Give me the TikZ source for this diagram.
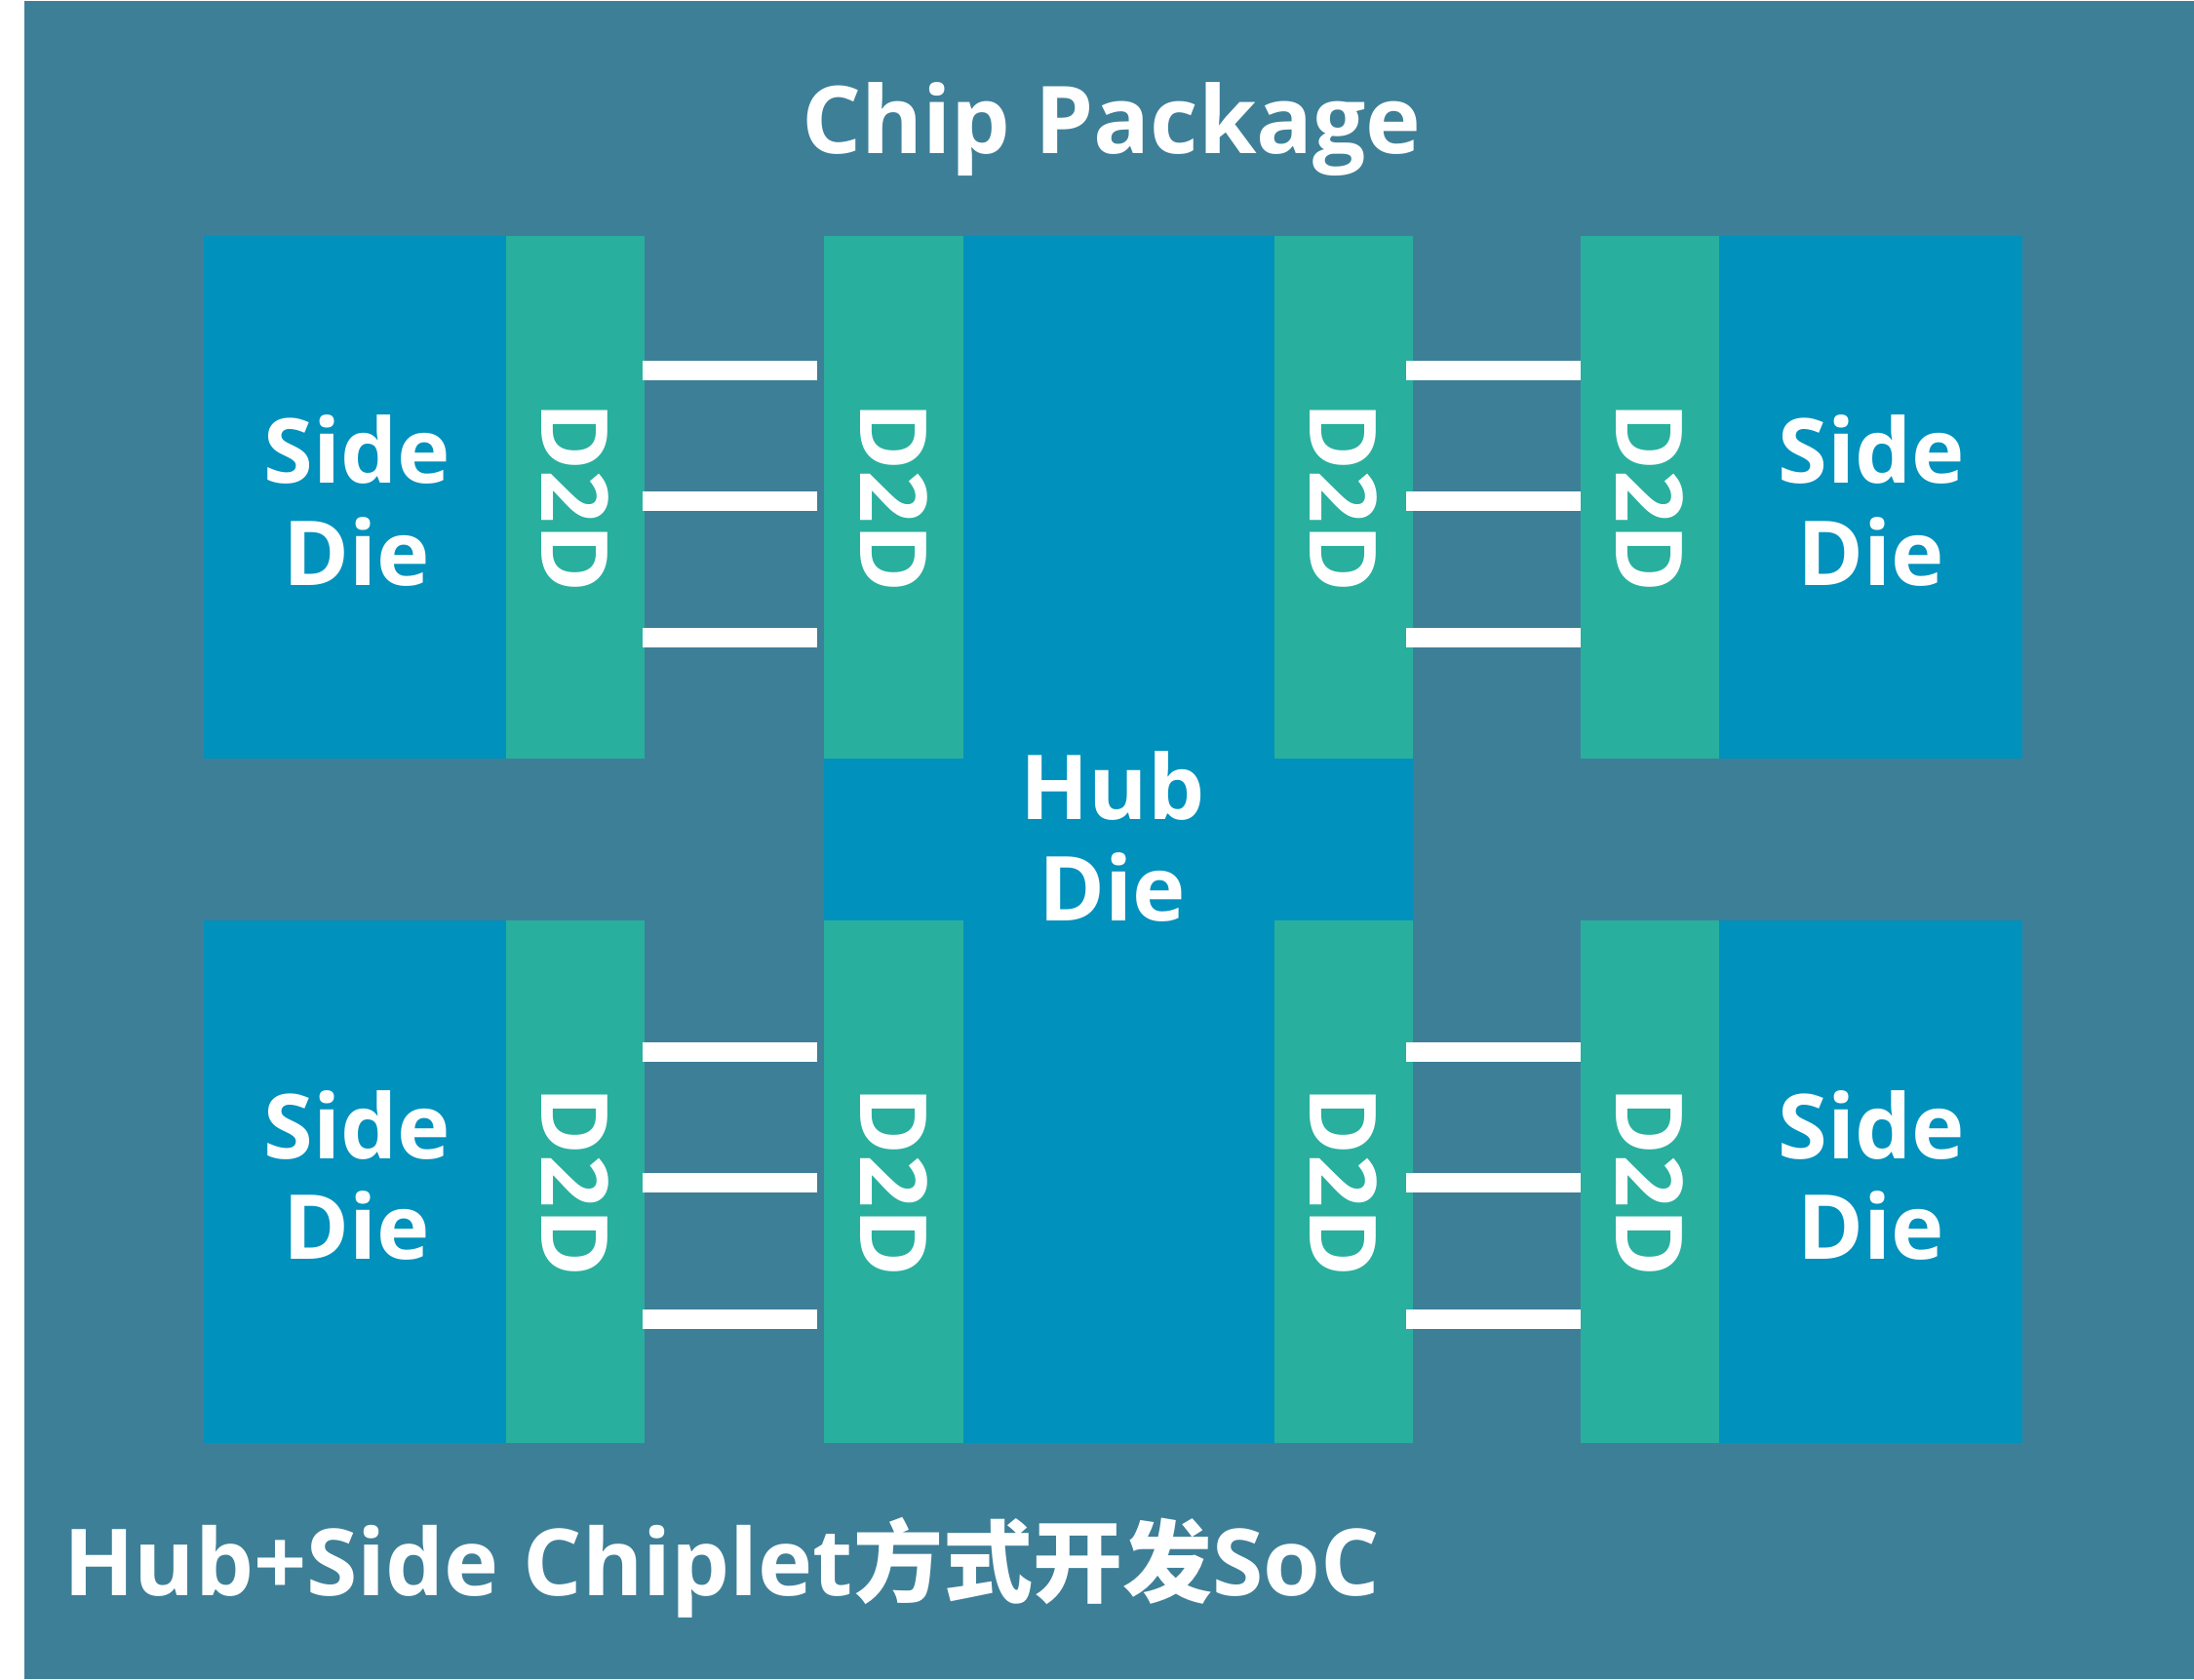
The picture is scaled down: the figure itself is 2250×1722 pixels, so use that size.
\documentclass[tikz,border=0pt]{standalone}
\usepackage{fontspec}
\usepackage{graphicx}
\setmainfont{Open Sans}
\newfontfamily\cjk{Noto Sans CJK SC}
\definecolor{pkgbg}{HTML}{3E7F98}
\definecolor{dieblue}{HTML}{0091BD}
\definecolor{phyteal}{HTML}{29AF9E}
\tikzset{
  dieblk/.style={fill=dieblue, draw=none, inner sep=0pt, outer sep=0pt, anchor=north west},
  phyblk/.style={fill=phyteal, draw=none, inner sep=0pt, outer sep=0pt, anchor=north west,
    minimum width=142pt, minimum height=536pt, text=white,
    font=\fontsize{95}{95}\selectfont\bfseries},
  wire/.style={draw=white, line width=20pt},
  dielbl/.style={text=white, inner sep=0pt, outer sep=0pt, anchor=base,
    font=\fontsize{92}{92}\selectfont\bfseries},
  bigtxt/.style={text=white, inner sep=0pt, outer sep=0pt,
    font=\fontsize{96}{96}\selectfont\bfseries}
}
\begin{document}
\begin{tikzpicture}[x=1pt,y=-1pt]
\useasboundingbox (0,0) rectangle (2250,1722);
\fill[white] (0,0) rectangle (2250,1722);
\fill[pkgbg] (25,1) rectangle (2250,1722);

\node[bigtxt, anchor=base] (title) at (1140,157) {Chip Package};

% upper row
\node[dieblk, minimum width=310pt, minimum height=536pt] (sdTL) at (209,242) {};
\node[phyblk] (pTL) at (519,242) {\rotatebox{-90}{D2D}};
\node[dieblk, minimum width=604pt, minimum height=1238pt] (hub) at (845,242) {};
\node[phyblk, minimum width=143pt] (hTL) at (845,242) {\rotatebox{-90}{D2D}};
\node[phyblk] (hTR) at (1307,242) {\rotatebox{-90}{D2D}};
\node[phyblk] (pTR) at (1621,242) {\rotatebox{-90}{D2D}};
\node[dieblk, minimum width=311pt, minimum height=536pt] (sdTR) at (1763,242) {};

% lower row
\node[dieblk, minimum width=310pt, minimum height=536pt] (sdBL) at (209,944) {};
\node[phyblk] (pBL) at (519,944) {\rotatebox{-90}{D2D}};
\node[phyblk, minimum width=143pt] (hBL) at (845,944) {\rotatebox{-90}{D2D}};
\node[phyblk] (hBR) at (1307,944) {\rotatebox{-90}{D2D}};
\node[phyblk] (pBR) at (1621,944) {\rotatebox{-90}{D2D}};
\node[dieblk, minimum width=311pt, minimum height=536pt] (sdBR) at (1763,944) {};

% labels
\node[dielbl] (sTL1) at (366,495) {Side};
\node[dielbl] (sTL2) at (366,600) {Die};
\node[dielbl] (sTR1) at (1919,495) {Side};
\node[dielbl] (sTR2) at (1919,600) {Die};
\node[dielbl] (sBL1) at (366,1188) {Side};
\node[dielbl] (sBL2) at (366,1291) {Die};
\node[dielbl] (sBR1) at (1919,1188) {Side};
\node[dielbl] (sBR2) at (1919,1291) {Die};
\node[dielbl] (hub1) at (1141,840) {Hub};
\node[dielbl] (hub2) at (1141,944) {Die};

% wires
\foreach \yy in {380,514,654} {
  \draw[wire, shorten <=-2pt, shorten >=7pt] (pTL.east |- 0,\yy) -- (hTL.west |- 0,\yy);
  \draw[wire, shorten <=-7pt] (hTR.east |- 0,\yy) -- (pTR.west |- 0,\yy);
}
\foreach \yy in {1079,1213,1353} {
  \draw[wire, shorten <=-2pt, shorten >=7pt] (pBL.east |- 0,\yy) -- (hBL.west |- 0,\yy);
  \draw[wire, shorten <=-7pt] (hBR.east |- 0,\yy) -- (pBR.west |- 0,\yy);
}

\node[bigtxt, anchor=base west, font=\fontsize{95}{95}\selectfont\bfseries] (caption) at (65,1636)
  {Hub+Side Chiplet{\cjk\bfseries\fontsize{92}{92}\selectfont 方式开发}SoC};
\end{tikzpicture}
\end{document}
